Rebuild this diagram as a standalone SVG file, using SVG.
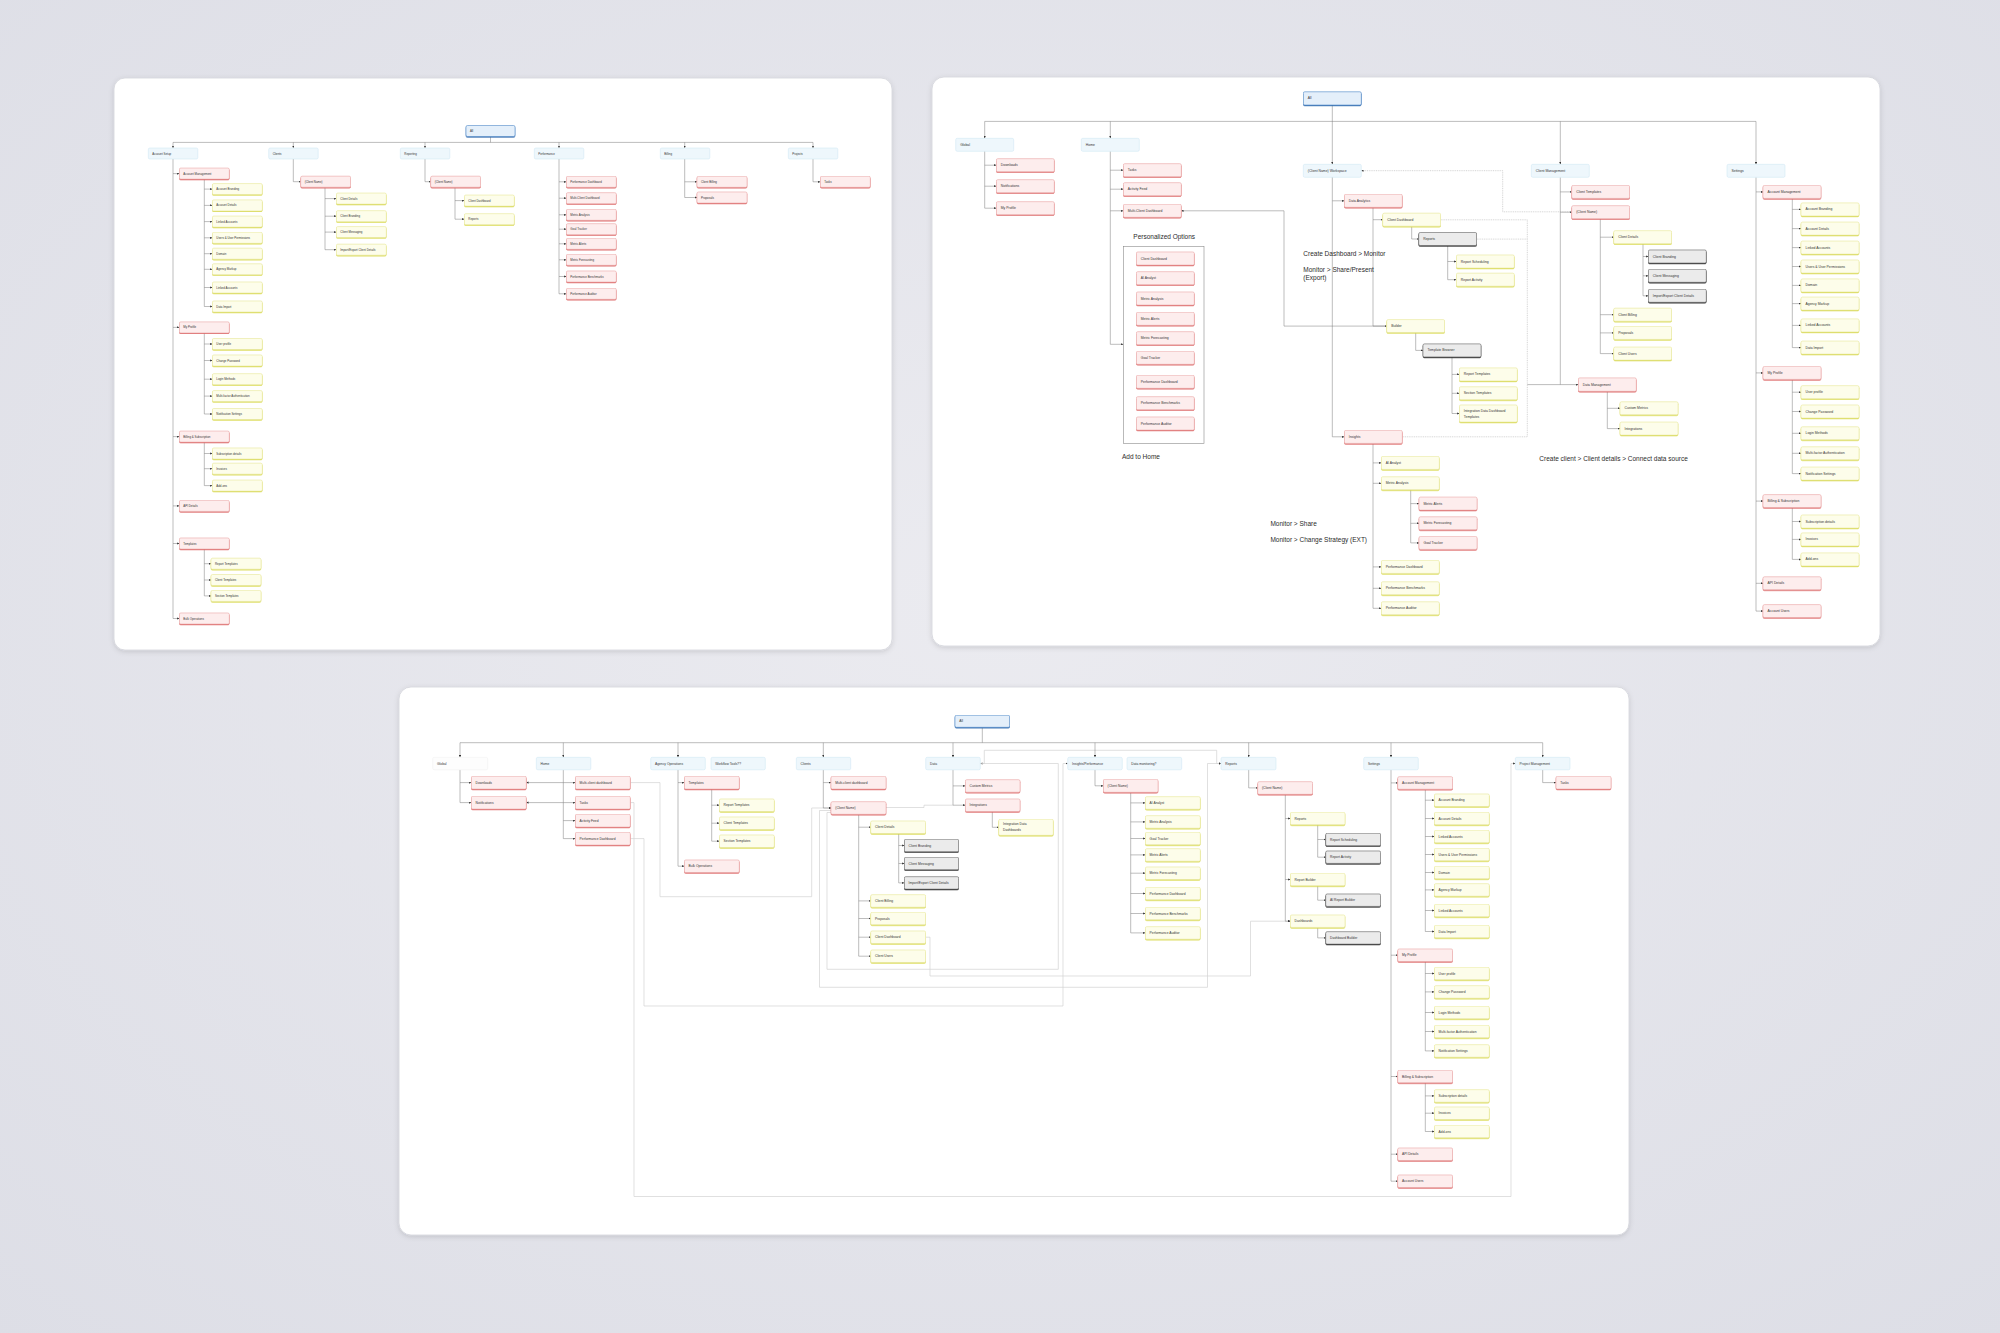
<svg xmlns="http://www.w3.org/2000/svg" width="2000" height="1333" viewBox="0 0 2000 1333">
<defs>
<radialGradient id="bg" cx="50%" cy="45%" r="75%"><stop offset="0" stop-color="#ebebf0"/><stop offset="1" stop-color="#dddee6"/></radialGradient>
<filter id="fp" x="-5%" y="-5%" width="110%" height="110%"><feDropShadow dx="0" dy="1.5" stdDeviation="2.5" flood-color="#000" flood-opacity="0.13"/></filter>
<filter id="fr"><feDropShadow dx="0" dy="0.8" stdDeviation="0" flood-color="#d95757"/></filter>
<filter id="fy"><feDropShadow dx="0" dy="0.8" stdDeviation="0" flood-color="#d6d63c"/></filter>
<filter id="fg"><feDropShadow dx="0" dy="0.8" stdDeviation="0" flood-color="#1e1e1e"/></filter>
<filter id="fa"><feDropShadow dx="0" dy="0.8" stdDeviation="0" flood-color="#2a66aa"/></filter>
<marker id="ar" viewBox="0 0 4 4" refX="4" refY="2" markerUnits="userSpaceOnUse" markerWidth="2.2" markerHeight="2.2" orient="auto"><path d="M0,0L4,2L0,4z" fill="#333"/></marker>
</defs>
<style>
.n rect{stroke-width:.5;rx:1.5px;ry:1.5px}
.n text{font-family:"Liberation Sans",Arial,sans-serif;fill:#333;dominant-baseline:central}
.p1 .n text{font-size:2.9px}
.p2 .n text{font-size:3.4px}
.p3 .n text{font-size:3.3px}
.a rect{fill:#e4effa;stroke:#3f7fc4;filter:url(#fa)}
.b rect{fill:#eef7fc;stroke:#cbe4f2}
.w rect{fill:#fdfdfd;stroke:#efefef}
.r rect{fill:#fdeded;stroke:#e9a3a3;filter:url(#fr)}
.y rect{fill:#fdfdea;stroke:#e7e793;filter:url(#fy)}
.g rect{fill:#ebebeb;stroke:#555;filter:url(#fg)}
.panel{fill:#fff;stroke:#d3d4db;stroke-width:.8;filter:url(#fp)}
.c path{fill:none;stroke:#7a7a7a;stroke-width:.5}
.c .k{marker-end:url(#ar)}
.c .x{stroke:#d2d2d2;stroke-width:.7}
.c .d{stroke:#a8a8a8;stroke-dasharray:1 .8}
.lbl{font-family:"Liberation Sans",Arial,sans-serif;font-size:6.5px;fill:#2b2b2b}
.box{fill:none;stroke:#8a8a8a;stroke-width:.6}
</style>
<rect width="2000" height="1333" fill="url(#bg)"/>
<rect class="panel" x="114" y="78" width="778" height="572" rx="11"/>
<rect class="panel" x="932" y="77" width="948" height="569" rx="12"/>
<rect class="panel" x="399" y="687" width="1230" height="548" rx="12"/>
<rect class="box" x="1123.3" y="246.3" width="80.7" height="197"/>

<g id="connectors" class="c">
<!-- panel 1 -->
<path d="M490.5 136.5V142.4M173 142.4H813"/>
<path class="k" d="M173 142.4V148"/><path class="k" d="M293.3 142.4V148"/><path class="k" d="M425 142.4V148"/><path class="k" d="M559 142.4V148"/><path class="k" d="M684.7 142.4V148"/><path class="k" d="M813 142.4V148"/>
<path d="M173 159V618.5M204.3 179.1V306.5M204.3 332.9V414M204.3 442.1V485.6M204.3 549V595.9"/>
<path class="k" d="M173 173.6H179.3"/><path class="k" d="M173 327.4H179.3"/><path class="k" d="M173 436.6H179.3"/><path class="k" d="M173 505.9H179.3"/><path class="k" d="M173 543.5H179.3"/><path class="k" d="M173 618.5H179.3"/>
<path class="k" d="M204.3 189.1H212.3"/><path class="k" d="M204.3 205.4H212.3"/><path class="k" d="M204.3 221.6H212.3"/><path class="k" d="M204.3 237.8H212.3"/><path class="k" d="M204.3 253.7H212.3"/><path class="k" d="M204.3 269.3H212.3"/><path class="k" d="M204.3 287.5H212.3"/><path class="k" d="M204.3 306.5H212.3"/>
<path class="k" d="M204.3 344H212.3"/><path class="k" d="M204.3 360.5H212.3"/><path class="k" d="M204.3 379.2H212.3"/><path class="k" d="M204.3 396.1H212.3"/><path class="k" d="M204.3 414H212.3"/>
<path class="k" d="M204.3 453.5H212.3"/><path class="k" d="M204.3 468.7H212.3"/><path class="k" d="M204.3 485.6H212.3"/>
<path class="k" d="M204.3 563.7H211"/><path class="k" d="M204.3 580H211"/><path class="k" d="M204.3 595.9H211"/>
<path class="k" d="M293.3 159V181.7H300.7"/>
<path d="M325 187.2V249.7"/>
<path class="k" d="M325 198.6H336.3"/><path class="k" d="M325 216.2H336.3"/><path class="k" d="M325 232.1H336.3"/><path class="k" d="M325 249.7H336.3"/>
<path class="k" d="M425 159V181.7H430.7"/>
<path d="M455 187.2V219.2"/>
<path class="k" d="M455 200.6H464.3"/><path class="k" d="M455 219.2H464.3"/>
<path d="M559 159V293.8"/>
<path class="k" d="M559 181.8H566.3"/><path class="k" d="M559 198.2H566.3"/><path class="k" d="M559 214.8H566.3"/><path class="k" d="M559 229.2H566.3"/><path class="k" d="M559 243.8H566.3"/><path class="k" d="M559 259.8H566.3"/><path class="k" d="M559 276.5H566.3"/><path class="k" d="M559 293.8H566.3"/>
<path d="M684.7 159V197.5"/>
<path class="k" d="M684.7 181.8H697"/><path class="k" d="M684.7 197.5H697"/>
<path class="k" d="M813 159V181.8H820.3"/>
<!-- panel 2 -->
<path d="M984.7 121.4H1756"/>
<path class="k" d="M1332.3 105V164.3"/>
<path class="k" d="M984.7 121.4V138.3"/><path class="k" d="M1110.3 121.4V138.3"/><path class="k" d="M1560.3 121.4V164.3"/><path class="k" d="M1756 121.4V164.3"/>
<path d="M984.7 151.3V208.2M1110.3 151.3V344.3"/>
<path class="k" d="M984.7 165.2H996.3"/><path class="k" d="M984.7 186.2H996.3"/><path class="k" d="M984.7 208.2H996.3"/>
<path class="k" d="M1110.3 170.2H1123.3"/><path class="k" d="M1110.3 189.2H1123.3"/><path class="k" d="M1110.3 210.8H1123.3"/><path class="k" d="M1110.3 344.3H1123.3"/>
<path class="k" d="M1386.7 326.1H1284V210.8H1181.3"/>
<path d="M1332.3 177.1V436.8M1373 207.1V326.1"/>
<path class="k" d="M1332.3 200.8H1344.3"/><path class="k" d="M1332.3 436.8H1344.3"/>
<path class="k" d="M1373 219.7H1382.7"/><path class="k" d="M1373 326.1H1386.7"/>
<path class="k" d="M1411.7 226.4V239H1418.7"/>
<path d="M1447.7 245.7V279.7"/>
<path class="k" d="M1447.7 261.5H1456.3"/><path class="k" d="M1447.7 279.7H1456.3"/>
<path class="k" d="M1415.7 332.6V350.4H1423"/>
<path d="M1452 357.1V413.5"/>
<path class="k" d="M1452 374.4H1459.3"/><path class="k" d="M1452 393.3H1459.3"/><path class="k" d="M1452 413.5H1459.3"/>
<path d="M1373 443.4V608.3"/>
<path class="k" d="M1373 462.9H1381.3"/><path class="k" d="M1373 483.3H1381.3"/><path class="k" d="M1373 566.9H1381.3"/><path class="k" d="M1373 588.3H1381.3"/><path class="k" d="M1373 608.3H1381.3"/>
<path d="M1410.7 489.8V542.9"/>
<path class="k" d="M1410.7 503.6H1419"/><path class="k" d="M1410.7 523.3H1419"/><path class="k" d="M1410.7 542.9H1419"/>
<path d="M1560.3 177.3V384.6"/>
<path class="k" d="M1560.3 191.9H1571.7"/><path class="k" d="M1560.3 212.2H1571.7"/><path class="k" d="M1527.3 384.6H1578.3"/>
<path d="M1600.3 218.7V353.6"/>
<path class="k" d="M1600.3 237.2H1613.7"/><path class="k" d="M1600.3 314.7H1613.7"/><path class="k" d="M1600.3 332.9H1613.7"/><path class="k" d="M1600.3 353.6H1613.7"/>
<path d="M1643 243.7V295.8"/>
<path class="k" d="M1643 256.5H1648.3"/><path class="k" d="M1643 275.8H1648.3"/><path class="k" d="M1643 295.8H1648.3"/>
<path d="M1607.3 391.4V428.6"/>
<path class="k" d="M1607.3 408.3H1620"/><path class="k" d="M1607.3 428.6H1620"/>
<path class="d k" d="M1571.7 211.8H1502.7V170.7H1361.3"/>
<path class="d" d="M1440.7 219.8H1527.3V436.8H1402M1476.7 239.1H1527.3"/>
<path d="M1756 177.3V611.1M1792.3 198.4V347.6M1792.3 379.4V473.6M1792.3 507.6V559.4"/>
<path class="k" d="M1756 191.9H1763"/><path class="k" d="M1756 372.9H1763"/><path class="k" d="M1756 501.1H1763"/><path class="k" d="M1756 583.3H1763"/><path class="k" d="M1756 611.1H1763"/>
<path class="k" d="M1792.3 209.4H1801"/><path class="k" d="M1792.3 228.6H1801"/><path class="k" d="M1792.3 247.6H1801"/><path class="k" d="M1792.3 266.5H1801"/><path class="k" d="M1792.3 285.4H1801"/><path class="k" d="M1792.3 303.6H1801"/><path class="k" d="M1792.3 325.4H1801"/><path class="k" d="M1792.3 347.6H1801"/>
<path class="k" d="M1792.3 392.2H1801"/><path class="k" d="M1792.3 411.5H1801"/><path class="k" d="M1792.3 433.3H1801"/><path class="k" d="M1792.3 453.3H1801"/><path class="k" d="M1792.3 473.6H1801"/>
<path class="k" d="M1792.3 521.5H1801"/><path class="k" d="M1792.3 539.4H1801"/><path class="k" d="M1792.3 559.4H1801"/>
<!-- panel 3 -->
<path class="x k" d="M630.3 782.6H660V896.7H811.7V808H831"/>
<path class="x k" d="M630.3 802.6H634V1196.5H1511V763.5H1515.3"/>
<path class="x k" d="M630.3 838.6H644V1006H1063V763.5H1067.7"/>
<path class="x k" d="M831 810.5H819.5V987.3H1207.5V763.5H1221"/>
<path class="x k" d="M831 812.5H827V969.3H1058.3V763.5H980.3"/>
<path class="x k" d="M980.3 763.5H984.3V750.3H1216.7V763.5H1221"/>
<path class="x" d="M885.7 807.5H924V805.2H953"/>
<path class="x k" d="M925.7 937.2H930V976H1250.5V921.2H1290.3"/>
<path d="M982.3 727.3V742.7M460 742.7H1542.7"/>
<path class="k" d="M460 742.7V757.3"/><path class="k" d="M563.3 742.7V757.3"/><path class="k" d="M678 742.7V757.3"/><path class="k" d="M823.3 742.7V757.3"/><path class="k" d="M953 742.7V757.3"/><path class="k" d="M1095 742.7V757.3"/><path class="k" d="M1248.7 742.7V757.3"/><path class="k" d="M1391 742.7V757.3"/><path class="k" d="M1542.7 742.7V757.3"/>
<path d="M460 769.8V802.6M563.3 769.8V838.6"/>
<path class="k" d="M460 782.6H471.3"/><path class="k" d="M460 802.6H471.3"/>
<path class="k" d="M563.3 782.6H575.3"/><path class="k" d="M563.3 802.6H575.3"/><path class="k" d="M563.3 820.6H575.3"/><path class="k" d="M563.3 838.6H575.3"/>
<path class="k" d="M563.3 782.6H526.3"/><path class="k" d="M563.3 802.6H526.3"/>
<path d="M678 769.8V866.2M711.7 788.8V841.2"/>
<path class="k" d="M678 782.6H684.3"/><path class="k" d="M678 866.2H684.3"/>
<path class="k" d="M711.7 805.2H719.3"/><path class="k" d="M711.7 823.2H719.3"/><path class="k" d="M711.7 841.2H719.3"/>
<path d="M823.3 769.8V808M858.7 814.2V956.2M898.7 833.5V882.9"/>
<path class="k" d="M823.3 782.6H831"/><path class="k" d="M823.3 808H831"/>
<path class="k" d="M858.7 827.2H870.7"/><path class="k" d="M858.7 900.9H870.7"/><path class="k" d="M858.7 918.5H870.7"/><path class="k" d="M858.7 937.2H870.7"/><path class="k" d="M858.7 956.2H870.7"/>
<path class="k" d="M898.7 845.5H904.3"/><path class="k" d="M898.7 863.5H904.3"/><path class="k" d="M898.7 882.9H904.3"/>
<path d="M953 769.8V805.2"/>
<path class="k" d="M953 785.9H965.3"/><path class="k" d="M953 805.2H965.3"/>
<path class="k" d="M992.3 811.5V827.3H998.7"/>
<path class="k" d="M1095 769.8V785.8H1103.3"/>
<path d="M1130.7 792.3V932.9"/>
<path class="k" d="M1130.7 802.9H1145.3"/><path class="k" d="M1130.7 821.9H1145.3"/><path class="k" d="M1130.7 838.5H1145.3"/><path class="k" d="M1130.7 854.9H1145.3"/><path class="k" d="M1130.7 873.2H1145.3"/><path class="k" d="M1130.7 893.5H1145.3"/><path class="k" d="M1130.7 913.5H1145.3"/><path class="k" d="M1130.7 932.9H1145.3"/>
<path class="k" d="M1248.7 769.8V787.9H1257.7"/>
<path d="M1285.3 794.2V921.2M1317.7 824.8V857.2"/>
<path class="k" d="M1285.3 818.5H1290.3"/><path class="k" d="M1285.3 879.5H1290.3"/><path class="k" d="M1285.3 921.2H1290.3"/>
<path class="k" d="M1317.7 839.5H1325.7"/><path class="k" d="M1317.7 857.2H1325.7"/>
<path class="k" d="M1317.7 885.8V900.2H1325.7"/><path class="k" d="M1317.7 927.5V937.9H1325.7"/>
<path d="M1391 769.8V1181.2M1425.3 789.2V931.5M1425.3 961.5V1050.9M1425.3 1082.8V1131.5"/>
<path class="k" d="M1391 782.9H1397.7"/><path class="k" d="M1391 955.2H1397.7"/><path class="k" d="M1391 1076.5H1397.7"/><path class="k" d="M1391 1154.2H1397.7"/><path class="k" d="M1391 1181.2H1397.7"/>
<path class="k" d="M1425.3 800.2H1434.3"/><path class="k" d="M1425.3 818.5H1434.3"/><path class="k" d="M1425.3 836.5H1434.3"/><path class="k" d="M1425.3 854.5H1434.3"/><path class="k" d="M1425.3 872.5H1434.3"/><path class="k" d="M1425.3 889.9H1434.3"/><path class="k" d="M1425.3 910.5H1434.3"/><path class="k" d="M1425.3 931.5H1434.3"/>
<path class="k" d="M1425.3 973.5H1434.3"/><path class="k" d="M1425.3 991.9H1434.3"/><path class="k" d="M1425.3 1012.5H1434.3"/><path class="k" d="M1425.3 1031.5H1434.3"/><path class="k" d="M1425.3 1050.9H1434.3"/>
<path class="k" d="M1425.3 1095.9H1434.3"/><path class="k" d="M1425.3 1113.2H1434.3"/><path class="k" d="M1425.3 1131.5H1434.3"/>
<path class="k" d="M1542.7 769.8V782.6H1556"/>
</g>

<g id="panel1" class="p1">
<g id="p1-all" class="n a"><rect x="466" y="125.5" width="49" height="11"/><text x="470" y="131">All</text></g>
<g id="p1-account-setup" class="n b"><rect x="148.3" y="148" width="49.5" height="11"/><text x="152.3" y="153.5">Account Setup</text></g>
<g id="p1-clients" class="n b"><rect x="268.7" y="148" width="49.5" height="11"/><text x="272.7" y="153.5">Clients</text></g>
<g id="p1-reporting" class="n b"><rect x="400.3" y="148" width="49.5" height="11"/><text x="404.3" y="153.5">Reporting</text></g>
<g id="p1-performance" class="n b"><rect x="534.3" y="148" width="49.5" height="11"/><text x="538.3" y="153.5">Performance</text></g>
<g id="p1-billing" class="n b"><rect x="660.3" y="148" width="49.5" height="11"/><text x="664.3" y="153.5">Billing</text></g>
<g id="p1-projects" class="n b"><rect x="788.3" y="148" width="49.5" height="11"/><text x="792.3" y="153.5">Projects</text></g>
<g id="p1-account-management" class="n r"><rect x="179.3" y="168.1" width="50" height="11"/><text x="183.3" y="173.6">Account Management</text></g>
<g id="p1-my-profile" class="n r"><rect x="179.3" y="321.9" width="50" height="11"/><text x="183.3" y="327.4">My Profile</text></g>
<g id="p1-billing-subscription" class="n r"><rect x="179.3" y="431.1" width="50" height="11"/><text x="183.3" y="436.6">Billing &amp; Subscription</text></g>
<g id="p1-api-details" class="n r"><rect x="179.3" y="500.4" width="50" height="11"/><text x="183.3" y="505.9">API Details</text></g>
<g id="p1-templates" class="n r"><rect x="179.3" y="538" width="50" height="11"/><text x="183.3" y="543.5">Templates</text></g>
<g id="p1-bulk-operations" class="n r"><rect x="179.3" y="613" width="50" height="11"/><text x="183.3" y="618.5">Bulk Operations</text></g>
<g id="p1-account-branding" class="n y"><rect x="212.3" y="183.6" width="50" height="11"/><text x="216.3" y="189.1">Account Branding</text></g>
<g id="p1-account-details" class="n y"><rect x="212.3" y="199.9" width="50" height="11"/><text x="216.3" y="205.4">Account Details</text></g>
<g id="p1-linked-accounts-1" class="n y"><rect x="212.3" y="216.1" width="50" height="11"/><text x="216.3" y="221.6">Linked Accounts</text></g>
<g id="p1-users-permissions" class="n y"><rect x="212.3" y="232.3" width="50" height="11"/><text x="216.3" y="237.8">Users &amp; User Permissions</text></g>
<g id="p1-domain" class="n y"><rect x="212.3" y="248.2" width="50" height="11"/><text x="216.3" y="253.7">Domain</text></g>
<g id="p1-agency-markup" class="n y"><rect x="212.3" y="263.8" width="50" height="11"/><text x="216.3" y="269.3">Agency Markup</text></g>
<g id="p1-linked-accounts-2" class="n y"><rect x="212.3" y="282" width="50" height="11"/><text x="216.3" y="287.5">Linked Accounts</text></g>
<g id="p1-data-import" class="n y"><rect x="212.3" y="301" width="50" height="11"/><text x="216.3" y="306.5">Data Import</text></g>
<g id="p1-user-profile" class="n y"><rect x="212.3" y="338.5" width="50" height="11"/><text x="216.3" y="344">User profile</text></g>
<g id="p1-change-password" class="n y"><rect x="212.3" y="355" width="50" height="11"/><text x="216.3" y="360.5">Change Password</text></g>
<g id="p1-login-methods" class="n y"><rect x="212.3" y="373.7" width="50" height="11"/><text x="216.3" y="379.2">Login Methods</text></g>
<g id="p1-mfa" class="n y"><rect x="212.3" y="390.6" width="50" height="11"/><text x="216.3" y="396.1">Multi-factor Authentication</text></g>
<g id="p1-notification-settings" class="n y"><rect x="212.3" y="408.5" width="50" height="11"/><text x="216.3" y="414">Notification Settings</text></g>
<g id="p1-subscription-details" class="n y"><rect x="212.3" y="448" width="50" height="11"/><text x="216.3" y="453.5">Subscription details</text></g>
<g id="p1-invoices" class="n y"><rect x="212.3" y="463.2" width="50" height="11"/><text x="216.3" y="468.7">Invoices</text></g>
<g id="p1-add-ons" class="n y"><rect x="212.3" y="480.1" width="50" height="11"/><text x="216.3" y="485.6">Add-ons</text></g>
<g id="p1-report-templates" class="n y"><rect x="211" y="558.2" width="50" height="11"/><text x="215" y="563.7">Report Templates</text></g>
<g id="p1-client-templates" class="n y"><rect x="211" y="574.5" width="50" height="11"/><text x="215" y="580">Client Templates</text></g>
<g id="p1-section-templates" class="n y"><rect x="211" y="590.4" width="50" height="11"/><text x="215" y="595.9">Section Templates</text></g>
<g id="p1-clients-client-name" class="n r"><rect x="300.7" y="176.2" width="50" height="11"/><text x="304.7" y="181.7">(Client Name)</text></g>
<g id="p1-client-details" class="n y"><rect x="336.3" y="193.1" width="50" height="11"/><text x="340.3" y="198.6">Client Details</text></g>
<g id="p1-client-branding" class="n y"><rect x="336.3" y="210.7" width="50" height="11"/><text x="340.3" y="216.2">Client Branding</text></g>
<g id="p1-client-messaging" class="n y"><rect x="336.3" y="226.6" width="50" height="11"/><text x="340.3" y="232.1">Client Messaging</text></g>
<g id="p1-import-export" class="n y"><rect x="336.3" y="244.2" width="50" height="11"/><text x="340.3" y="249.7">Import/Export Client Details</text></g>
<g id="p1-reporting-client-name" class="n r"><rect x="430.7" y="176.2" width="50" height="11"/><text x="434.7" y="181.7">(Client Name)</text></g>
<g id="p1-client-dashboard" class="n y"><rect x="464.3" y="195.1" width="50" height="11"/><text x="468.3" y="200.6">Client Dashboard</text></g>
<g id="p1-reports" class="n y"><rect x="464.3" y="213.7" width="50" height="11"/><text x="468.3" y="219.2">Reports</text></g>
<g id="p1-performance-dashboard" class="n r"><rect x="566.3" y="176.3" width="50" height="11"/><text x="570.3" y="181.8">Performance Dashboard</text></g>
<g id="p1-multi-client-dashboard" class="n r"><rect x="566.3" y="192.7" width="50" height="11"/><text x="570.3" y="198.2">Multi-Client Dashboard</text></g>
<g id="p1-metric-analysis" class="n r"><rect x="566.3" y="209.3" width="50" height="11"/><text x="570.3" y="214.8">Metric Analysis</text></g>
<g id="p1-goal-tracker" class="n r"><rect x="566.3" y="223.7" width="50" height="11"/><text x="570.3" y="229.2">Goal Tracker</text></g>
<g id="p1-metric-alerts" class="n r"><rect x="566.3" y="238.3" width="50" height="11"/><text x="570.3" y="243.8">Metric Alerts</text></g>
<g id="p1-metric-forecasting" class="n r"><rect x="566.3" y="254.3" width="50" height="11"/><text x="570.3" y="259.8">Metric Forecasting</text></g>
<g id="p1-performance-benchmarks" class="n r"><rect x="566.3" y="271" width="50" height="11"/><text x="570.3" y="276.5">Performance Benchmarks</text></g>
<g id="p1-performance-auditor" class="n r"><rect x="566.3" y="288.3" width="50" height="11"/><text x="570.3" y="293.8">Performance Auditor</text></g>
<g id="p1-client-billing" class="n r"><rect x="697" y="176.3" width="50" height="11"/><text x="701" y="181.8">Client Billing</text></g>
<g id="p1-proposals" class="n r"><rect x="697" y="192" width="50" height="11"/><text x="701" y="197.5">Proposals</text></g>
<g id="p1-tasks" class="n r"><rect x="820.3" y="176.3" width="50" height="11"/><text x="824.3" y="181.8">Tasks</text></g>
</g>

<g id="panel2" class="p2">
<g id="p2-all" class="n a"><rect x="1303.3" y="91.8" width="58" height="13.2"/><text x="1307.8" y="98.4">All</text></g>
<g id="p2-global" class="n b"><rect x="955.7" y="138.3" width="58" height="13"/><text x="960.2" y="144.8">Global</text></g>
<g id="p2-home" class="n b"><rect x="1081.3" y="138.3" width="58" height="13"/><text x="1085.8" y="144.8">Home</text></g>
<g id="p2-workspace" class="n b"><rect x="1303.3" y="164.3" width="58" height="13"/><text x="1307.8" y="170.8">(Client Name) Workspace</text></g>
<g id="p2-client-management" class="n b"><rect x="1531.3" y="164.3" width="58" height="13"/><text x="1535.8" y="170.8">Client Management</text></g>
<g id="p2-settings" class="n b"><rect x="1727" y="164.3" width="58" height="13"/><text x="1731.5" y="170.8">Settings</text></g>
<g id="p2-downloads" class="n r"><rect x="996.3" y="158.7" width="58" height="13"/><text x="1000.8" y="165.2">Downloads</text></g>
<g id="p2-notifications" class="n r"><rect x="996.3" y="179.7" width="58" height="13"/><text x="1000.8" y="186.2">Notifications</text></g>
<g id="p2-global-my-profile" class="n r"><rect x="996.3" y="201.7" width="58" height="13"/><text x="1000.8" y="208.2">My Profile</text></g>
<g id="p2-tasks" class="n r"><rect x="1123.3" y="163.7" width="58" height="13"/><text x="1127.8" y="170.2">Tasks</text></g>
<g id="p2-activity-feed" class="n r"><rect x="1123.3" y="182.7" width="58" height="13"/><text x="1127.8" y="189.2">Activity Feed</text></g>
<g id="p2-multi-client-dashboard" class="n r"><rect x="1123.3" y="204.3" width="58" height="13"/><text x="1127.8" y="210.8">Multi-Client Dashboard</text></g>
<g id="p2-opt-client-dashboard" class="n r"><rect x="1136.3" y="252" width="58" height="13"/><text x="1140.8" y="258.5">Client Dashboard</text></g>
<g id="p2-opt-ai-analyst" class="n r"><rect x="1136.3" y="271.7" width="58" height="13"/><text x="1140.8" y="278.2">AI Analyst</text></g>
<g id="p2-opt-metric-analysis" class="n r"><rect x="1136.3" y="292" width="58" height="13"/><text x="1140.8" y="298.5">Metric Analysis</text></g>
<g id="p2-opt-metric-alerts" class="n r"><rect x="1136.3" y="312.3" width="58" height="13"/><text x="1140.8" y="318.8">Metric Alerts</text></g>
<g id="p2-opt-metric-forecasting" class="n r"><rect x="1136.3" y="331.7" width="58" height="13"/><text x="1140.8" y="338.2">Metric Forecasting</text></g>
<g id="p2-opt-goal-tracker" class="n r"><rect x="1136.3" y="351.3" width="58" height="13"/><text x="1140.8" y="357.8">Goal Tracker</text></g>
<g id="p2-opt-performance-dashboard" class="n r"><rect x="1136.3" y="375.3" width="58" height="13"/><text x="1140.8" y="381.8">Performance Dashboard</text></g>
<g id="p2-opt-performance-benchmarks" class="n r"><rect x="1136.3" y="396.7" width="58" height="13"/><text x="1140.8" y="403.2">Performance Benchmarks</text></g>
<g id="p2-opt-performance-auditor" class="n r"><rect x="1136.3" y="417" width="58" height="13"/><text x="1140.8" y="423.5">Performance Auditor</text></g>
<g id="p2-data-analytics" class="n r"><rect x="1344.3" y="194.3" width="58" height="13"/><text x="1348.8" y="200.8">Data Analytics</text></g>
<g id="p2-client-dashboard" class="n y"><rect x="1382.7" y="213.2" width="58" height="13"/><text x="1387.2" y="219.7">Client Dashboard</text></g>
<g id="p2-reports" class="n g"><rect x="1418.7" y="232.5" width="58" height="13"/><text x="1423.2" y="239">Reports</text></g>
<g id="p2-report-scheduling" class="n y"><rect x="1456.3" y="255" width="58" height="13"/><text x="1460.8" y="261.5">Report Scheduling</text></g>
<g id="p2-report-activity" class="n y"><rect x="1456.3" y="273.2" width="58" height="13"/><text x="1460.8" y="279.7">Report Activity</text></g>
<g id="p2-builder" class="n y"><rect x="1386.7" y="319.6" width="58" height="13"/><text x="1391.2" y="326.1">Builder</text></g>
<g id="p2-template-browser" class="n g"><rect x="1423" y="343.9" width="58" height="13"/><text x="1427.5" y="350.4">Template Browser</text></g>
<g id="p2-report-templates" class="n y"><rect x="1459.3" y="367.9" width="58" height="13"/><text x="1463.8" y="374.4">Report Templates</text></g>
<g id="p2-section-templates" class="n y"><rect x="1459.3" y="386.8" width="58" height="13"/><text x="1463.8" y="393.3">Section Templates</text></g>
<g id="p2-integration-templates" class="n y"><rect x="1459.3" y="405" width="58" height="17"/><text x="1463.8" y="410.5">Integration Data Dashboard<tspan x="1463.8" y="416.5">Templates</tspan></text></g>
<g id="p2-insights" class="n r"><rect x="1344.3" y="430.4" width="58" height="13"/><text x="1348.8" y="436.9">Insights</text></g>
<g id="p2-ai-analyst" class="n y"><rect x="1381.3" y="456.4" width="58" height="13"/><text x="1385.8" y="462.9">AI Analyst</text></g>
<g id="p2-metric-analysis" class="n y"><rect x="1381.3" y="476.8" width="58" height="13"/><text x="1385.8" y="483.3">Metric Analysis</text></g>
<g id="p2-metric-alerts" class="n r"><rect x="1419" y="497.1" width="58" height="13"/><text x="1423.5" y="503.6">Metric Alerts</text></g>
<g id="p2-metric-forecasting" class="n r"><rect x="1419" y="516.8" width="58" height="13"/><text x="1423.5" y="523.3">Metric Forecasting</text></g>
<g id="p2-goal-tracker" class="n r"><rect x="1419" y="536.4" width="58" height="13"/><text x="1423.5" y="542.9">Goal Tracker</text></g>
<g id="p2-performance-dashboard" class="n y"><rect x="1381.3" y="560.4" width="58" height="13"/><text x="1385.8" y="566.9">Performance Dashboard</text></g>
<g id="p2-performance-benchmarks" class="n y"><rect x="1381.3" y="581.8" width="58" height="13"/><text x="1385.8" y="588.3">Performance Benchmarks</text></g>
<g id="p2-performance-auditor" class="n y"><rect x="1381.3" y="601.8" width="58" height="13"/><text x="1385.8" y="608.3">Performance Auditor</text></g>
<g id="p2-client-templates" class="n r"><rect x="1571.7" y="185.4" width="58" height="13"/><text x="1576.2" y="191.9">Client Templates</text></g>
<g id="p2-cm-client-name" class="n r"><rect x="1571.7" y="205.7" width="58" height="13"/><text x="1576.2" y="212.2">(Client Name)</text></g>
<g id="p2-client-details" class="n y"><rect x="1613.7" y="230.7" width="58" height="13"/><text x="1618.2" y="237.2">Client Details</text></g>
<g id="p2-client-branding" class="n g"><rect x="1648.3" y="250" width="58" height="13"/><text x="1652.8" y="256.5">Client Branding</text></g>
<g id="p2-client-messaging" class="n g"><rect x="1648.3" y="269.3" width="58" height="13"/><text x="1652.8" y="275.8">Client Messaging</text></g>
<g id="p2-import-export" class="n g"><rect x="1648.3" y="289.3" width="58" height="13"/><text x="1652.8" y="295.8">Import/Export Client Details</text></g>
<g id="p2-client-billing" class="n y"><rect x="1613.7" y="308.2" width="58" height="13"/><text x="1618.2" y="314.7">Client Billing</text></g>
<g id="p2-proposals" class="n y"><rect x="1613.7" y="326.4" width="58" height="13"/><text x="1618.2" y="332.9">Proposals</text></g>
<g id="p2-client-users" class="n y"><rect x="1613.7" y="347.1" width="58" height="13"/><text x="1618.2" y="353.6">Client Users</text></g>
<g id="p2-data-management" class="n r"><rect x="1578.3" y="377.9" width="58" height="13.4"/><text x="1582.8" y="384.6">Data Management</text></g>
<g id="p2-custom-metrics" class="n y"><rect x="1620" y="401.8" width="58" height="13"/><text x="1624.5" y="408.3">Custom Metrics</text></g>
<g id="p2-integrations" class="n y"><rect x="1620" y="422.1" width="58" height="13"/><text x="1624.5" y="428.6">Integrations</text></g>
<g id="p2-account-management" class="n r"><rect x="1763" y="185.4" width="58" height="13"/><text x="1767.5" y="191.9">Account Management</text></g>
<g id="p2-account-branding" class="n y"><rect x="1801" y="202.9" width="58" height="13"/><text x="1805.5" y="209.4">Account Branding</text></g>
<g id="p2-account-details" class="n y"><rect x="1801" y="222.1" width="58" height="13"/><text x="1805.5" y="228.6">Account Details</text></g>
<g id="p2-linked-accounts-1" class="n y"><rect x="1801" y="241.1" width="58" height="13"/><text x="1805.5" y="247.6">Linked Accounts</text></g>
<g id="p2-users-permissions" class="n y"><rect x="1801" y="260" width="58" height="13"/><text x="1805.5" y="266.5">Users &amp; User Permissions</text></g>
<g id="p2-domain" class="n y"><rect x="1801" y="278.9" width="58" height="13"/><text x="1805.5" y="285.4">Domain</text></g>
<g id="p2-agency-markup" class="n y"><rect x="1801" y="297.1" width="58" height="13"/><text x="1805.5" y="303.6">Agency Markup</text></g>
<g id="p2-linked-accounts-2" class="n y"><rect x="1801" y="318.9" width="58" height="13"/><text x="1805.5" y="325.4">Linked Accounts</text></g>
<g id="p2-data-import" class="n y"><rect x="1801" y="341.1" width="58" height="13"/><text x="1805.5" y="347.6">Data Import</text></g>
<g id="p2-my-profile" class="n r"><rect x="1763" y="366.4" width="58" height="13"/><text x="1767.5" y="372.9">My Profile</text></g>
<g id="p2-user-profile" class="n y"><rect x="1801" y="385.7" width="58" height="13"/><text x="1805.5" y="392.2">User profile</text></g>
<g id="p2-change-password" class="n y"><rect x="1801" y="405" width="58" height="13"/><text x="1805.5" y="411.5">Change Password</text></g>
<g id="p2-login-methods" class="n y"><rect x="1801" y="426.8" width="58" height="13"/><text x="1805.5" y="433.3">Login Methods</text></g>
<g id="p2-mfa" class="n y"><rect x="1801" y="446.8" width="58" height="13"/><text x="1805.5" y="453.3">Multi-factor Authentication</text></g>
<g id="p2-notification-settings" class="n y"><rect x="1801" y="467.1" width="58" height="13"/><text x="1805.5" y="473.6">Notification Settings</text></g>
<g id="p2-billing-subscription" class="n r"><rect x="1763" y="494.6" width="58" height="13"/><text x="1767.5" y="501.1">Billing &amp; Subscription</text></g>
<g id="p2-subscription-details" class="n y"><rect x="1801" y="515" width="58" height="13"/><text x="1805.5" y="521.5">Subscription details</text></g>
<g id="p2-invoices" class="n y"><rect x="1801" y="532.9" width="58" height="13"/><text x="1805.5" y="539.4">Invoices</text></g>
<g id="p2-add-ons" class="n y"><rect x="1801" y="552.9" width="58" height="13"/><text x="1805.5" y="559.4">Add-ons</text></g>
<g id="p2-api-details" class="n r"><rect x="1763" y="576.8" width="58" height="13"/><text x="1767.5" y="583.3">API Details</text></g>
<g id="p2-account-users" class="n r"><rect x="1763" y="604.6" width="58" height="13"/><text x="1767.5" y="611.1">Account Users</text></g>
<text class="lbl" x="1133.3" y="238.8">Personalized Options</text>
<text class="lbl" x="1122" y="458.6">Add to Home</text>
<text class="lbl" x="1303.3" y="256.3">Create Dashboard &gt; Monitor</text>
<text class="lbl" x="1303.3" y="271.9">Monitor &gt; Share/Present</text>
<text class="lbl" x="1303.3" y="280.2">(Export)</text>
<text class="lbl" x="1270.4" y="525.9">Monitor &gt; Share</text>
<text class="lbl" x="1270.4" y="541.9">Monitor &gt; Change Strategy (EXT)</text>
<text class="lbl" x="1539.3" y="460.9">Create client &gt; Client details &gt; Connect data source</text>
</g>

<g id="panel3" class="p3">
<g id="p3-all" class="n a"><rect x="955" y="715.3" width="54.7" height="12"/><text x="959.3" y="721.3">All</text></g>
<g id="p3-global" class="n w"><rect x="432.7" y="757.3" width="55" height="12.5"/><text x="437" y="763.55">Global</text></g>
<g id="p3-home" class="n b"><rect x="536.3" y="757.3" width="54.5" height="12.5"/><text x="540.6" y="763.55">Home</text></g>
<g id="p3-agency-operations" class="n b"><rect x="650.7" y="757.3" width="54.6" height="12.5"/><text x="655" y="763.55">Agency Operations</text></g>
<g id="p3-workflow-tools" class="n b"><rect x="711" y="757.3" width="54.3" height="12.5"/><text x="715.3" y="763.55">Workflow Tools??</text></g>
<g id="p3-clients" class="n b"><rect x="796.3" y="757.3" width="54.4" height="12.5"/><text x="800.6" y="763.55">Clients</text></g>
<g id="p3-data" class="n b"><rect x="925.7" y="757.3" width="54.6" height="12.5"/><text x="930" y="763.55">Data</text></g>
<g id="p3-insights-performance" class="n b"><rect x="1067.7" y="757.3" width="54.6" height="12.5"/><text x="1072" y="763.55">Insights/Performance</text></g>
<g id="p3-data-monitoring" class="n b"><rect x="1127" y="757.3" width="54.7" height="12.5"/><text x="1131.3" y="763.55">Data monitoring?</text></g>
<g id="p3-reports" class="n b"><rect x="1221" y="757.3" width="55" height="12.5"/><text x="1225.3" y="763.55">Reports</text></g>
<g id="p3-settings" class="n b"><rect x="1363.7" y="757.3" width="54.6" height="12.5"/><text x="1368" y="763.55">Settings</text></g>
<g id="p3-project-management" class="n b"><rect x="1515.3" y="757.3" width="54.7" height="12.5"/><text x="1519.6" y="763.55">Project Management</text></g>
<g id="p3-downloads" class="n r"><rect x="471.3" y="776.3" width="55" height="12.7"/><text x="475.6" y="782.6">Downloads</text></g>
<g id="p3-notifications" class="n r"><rect x="471.3" y="796.3" width="55" height="12.7"/><text x="475.6" y="802.6">Notifications</text></g>
<g id="p3-home-multi-client" class="n r"><rect x="575.3" y="776.3" width="55" height="12.7"/><text x="579.6" y="782.6">Multi-client dashboard</text></g>
<g id="p3-home-tasks" class="n r"><rect x="575.3" y="796.3" width="55" height="12.7"/><text x="579.6" y="802.6">Tasks</text></g>
<g id="p3-activity-feed" class="n r"><rect x="575.3" y="814.3" width="55" height="12.7"/><text x="579.6" y="820.6">Activity Feed</text></g>
<g id="p3-home-performance-dashboard" class="n r"><rect x="575.3" y="832.3" width="55" height="12.7"/><text x="579.6" y="838.6">Performance Dashboard</text></g>
<g id="p3-templates" class="n r"><rect x="684.3" y="776.3" width="55" height="12.7"/><text x="688.6" y="782.6">Templates</text></g>
<g id="p3-report-templates" class="n y"><rect x="719.3" y="799" width="55" height="12.5"/><text x="723.6" y="805.2">Report Templates</text></g>
<g id="p3-client-templates" class="n y"><rect x="719.3" y="817" width="55" height="12.5"/><text x="723.6" y="823.2">Client Templates</text></g>
<g id="p3-section-templates" class="n y"><rect x="719.3" y="835" width="55" height="12.5"/><text x="723.6" y="841.2">Section Templates</text></g>
<g id="p3-bulk-operations" class="n r"><rect x="684.3" y="860" width="55" height="12.5"/><text x="688.6" y="866.2">Bulk Operations</text></g>
<g id="p3-clients-multi-client" class="n r"><rect x="831" y="776.3" width="55" height="12.7"/><text x="835.3" y="782.6">Multi-client dashboard</text></g>
<g id="p3-clients-client-name" class="n r"><rect x="831" y="801.7" width="55" height="12.6"/><text x="835.3" y="808">(Client Name)</text></g>
<g id="p3-client-details" class="n y"><rect x="870.7" y="821" width="55" height="12.5"/><text x="875" y="827.2">Client Details</text></g>
<g id="p3-client-branding" class="n g"><rect x="904.3" y="839.3" width="54.4" height="12.4"/><text x="908.6" y="845.5">Client Branding</text></g>
<g id="p3-client-messaging" class="n g"><rect x="904.3" y="857.3" width="54.4" height="12.4"/><text x="908.6" y="863.5">Client Messaging</text></g>
<g id="p3-import-export" class="n g"><rect x="904.3" y="876.7" width="54.4" height="12.4"/><text x="908.6" y="882.9">Import/Export Client Details</text></g>
<g id="p3-client-billing" class="n y"><rect x="870.7" y="894.7" width="55" height="12.5"/><text x="875" y="900.9">Client Billing</text></g>
<g id="p3-proposals" class="n y"><rect x="870.7" y="912.3" width="55" height="12.5"/><text x="875" y="918.5">Proposals</text></g>
<g id="p3-client-dashboard" class="n y"><rect x="870.7" y="931" width="55" height="12.5"/><text x="875" y="937.2">Client Dashboard</text></g>
<g id="p3-client-users" class="n y"><rect x="870.7" y="950" width="55" height="12.5"/><text x="875" y="956.2">Client Users</text></g>
<g id="p3-custom-metrics" class="n r"><rect x="965.3" y="779.7" width="54.7" height="12.5"/><text x="969.6" y="785.9">Custom Metrics</text></g>
<g id="p3-integrations" class="n r"><rect x="965.3" y="799" width="54.7" height="12.5"/><text x="969.6" y="805.2">Integrations</text></g>
<g id="p3-integration-dashboards" class="n y"><rect x="998.7" y="819.3" width="54.6" height="16"/><text x="1003" y="824.2">Integration Data<tspan x="1003" y="830.4">Dashboards</tspan></text></g>
<g id="p3-insights-client-name" class="n r"><rect x="1103.3" y="779.3" width="54.7" height="13"/><text x="1107.6" y="785.8">(Client Name)</text></g>
<g id="p3-ai-analyst" class="n y"><rect x="1145.3" y="796.7" width="55" height="12.5"/><text x="1149.6" y="802.9">AI Analyst</text></g>
<g id="p3-metric-analysis" class="n y"><rect x="1145.3" y="815.7" width="55" height="12.5"/><text x="1149.6" y="821.9">Metric Analysis</text></g>
<g id="p3-goal-tracker" class="n y"><rect x="1145.3" y="832.3" width="55" height="12.5"/><text x="1149.6" y="838.5">Goal Tracker</text></g>
<g id="p3-metric-alerts" class="n y"><rect x="1145.3" y="848.7" width="55" height="12.5"/><text x="1149.6" y="854.9">Metric Alerts</text></g>
<g id="p3-metric-forecasting" class="n y"><rect x="1145.3" y="867" width="55" height="12.5"/><text x="1149.6" y="873.2">Metric Forecasting</text></g>
<g id="p3-performance-dashboard" class="n y"><rect x="1145.3" y="887.3" width="55" height="12.5"/><text x="1149.6" y="893.5">Performance Dashboard</text></g>
<g id="p3-performance-benchmarks" class="n y"><rect x="1145.3" y="907.3" width="55" height="12.5"/><text x="1149.6" y="913.5">Performance Benchmarks</text></g>
<g id="p3-performance-auditor" class="n y"><rect x="1145.3" y="926.7" width="55" height="12.5"/><text x="1149.6" y="932.9">Performance Auditor</text></g>
<g id="p3-reports-client-name" class="n r"><rect x="1257.7" y="781.7" width="55" height="12.6"/><text x="1262" y="788">(Client Name)</text></g>
<g id="p3-reports-sub" class="n y"><rect x="1290.3" y="812.3" width="54.7" height="12.5"/><text x="1294.6" y="818.5">Reports</text></g>
<g id="p3-report-scheduling" class="n g"><rect x="1325.7" y="833.3" width="55" height="12.4"/><text x="1330" y="839.5">Report Scheduling</text></g>
<g id="p3-report-activity" class="n g"><rect x="1325.7" y="851" width="55" height="12.4"/><text x="1330" y="857.2">Report Activity</text></g>
<g id="p3-report-builder" class="n y"><rect x="1290.3" y="873.3" width="54.7" height="12.5"/><text x="1294.6" y="879.5">Report Builder</text></g>
<g id="p3-ai-report-builder" class="n g"><rect x="1325.7" y="894" width="55" height="12.4"/><text x="1330" y="900.2">AI Report Builder</text></g>
<g id="p3-dashboards" class="n y"><rect x="1290.3" y="915" width="54.7" height="12.4"/><text x="1294.6" y="921.2">Dashboards</text></g>
<g id="p3-dashboard-builder" class="n g"><rect x="1325.7" y="931.7" width="55" height="12.4"/><text x="1330" y="937.9">Dashboard Builder</text></g>
<g id="p3-account-management" class="n r"><rect x="1397.7" y="776.7" width="55" height="12.5"/><text x="1402" y="782.9">Account Management</text></g>
<g id="p3-account-branding" class="n y"><rect x="1434.3" y="794" width="55" height="12.5"/><text x="1438.6" y="800.2">Account Branding</text></g>
<g id="p3-account-details" class="n y"><rect x="1434.3" y="812.3" width="55" height="12.5"/><text x="1438.6" y="818.5">Account Details</text></g>
<g id="p3-linked-accounts-1" class="n y"><rect x="1434.3" y="830.3" width="55" height="12.5"/><text x="1438.6" y="836.5">Linked Accounts</text></g>
<g id="p3-users-permissions" class="n y"><rect x="1434.3" y="848.3" width="55" height="12.5"/><text x="1438.6" y="854.5">Users &amp; User Permissions</text></g>
<g id="p3-domain" class="n y"><rect x="1434.3" y="866.3" width="55" height="12.5"/><text x="1438.6" y="872.5">Domain</text></g>
<g id="p3-agency-markup" class="n y"><rect x="1434.3" y="883.7" width="55" height="12.5"/><text x="1438.6" y="889.9">Agency Markup</text></g>
<g id="p3-linked-accounts-2" class="n y"><rect x="1434.3" y="904.3" width="55" height="12.5"/><text x="1438.6" y="910.5">Linked Accounts</text></g>
<g id="p3-data-import" class="n y"><rect x="1434.3" y="925.3" width="55" height="12.5"/><text x="1438.6" y="931.5">Data Import</text></g>
<g id="p3-my-profile" class="n r"><rect x="1397.7" y="949" width="55" height="12.5"/><text x="1402" y="955.2">My Profile</text></g>
<g id="p3-user-profile" class="n y"><rect x="1434.3" y="967.3" width="55" height="12.5"/><text x="1438.6" y="973.5">User profile</text></g>
<g id="p3-change-password" class="n y"><rect x="1434.3" y="985.7" width="55" height="12.5"/><text x="1438.6" y="991.9">Change Password</text></g>
<g id="p3-login-methods" class="n y"><rect x="1434.3" y="1006.3" width="55" height="12.5"/><text x="1438.6" y="1012.5">Login Methods</text></g>
<g id="p3-mfa" class="n y"><rect x="1434.3" y="1025.3" width="55" height="12.5"/><text x="1438.6" y="1031.5">Multi-factor Authentication</text></g>
<g id="p3-notification-settings" class="n y"><rect x="1434.3" y="1044.7" width="55" height="12.5"/><text x="1438.6" y="1050.9">Notification Settings</text></g>
<g id="p3-billing-subscription" class="n r"><rect x="1397.7" y="1070.3" width="55" height="12.5"/><text x="1402" y="1076.5">Billing &amp; Subscription</text></g>
<g id="p3-subscription-details" class="n y"><rect x="1434.3" y="1089.7" width="55" height="12.5"/><text x="1438.6" y="1095.9">Subscription details</text></g>
<g id="p3-invoices" class="n y"><rect x="1434.3" y="1107" width="55" height="12.5"/><text x="1438.6" y="1113.2">Invoices</text></g>
<g id="p3-add-ons" class="n y"><rect x="1434.3" y="1125.3" width="55" height="12.5"/><text x="1438.6" y="1131.5">Add-ons</text></g>
<g id="p3-api-details" class="n r"><rect x="1397.7" y="1148" width="55" height="12.5"/><text x="1402" y="1154.2">API Details</text></g>
<g id="p3-account-users" class="n r"><rect x="1397.7" y="1175" width="55" height="12.5"/><text x="1402" y="1181.2">Account Users</text></g>
<g id="p3-pm-tasks" class="n r"><rect x="1556" y="776.3" width="55" height="12.7"/><text x="1560.3" y="782.6">Tasks</text></g>
</g>
</svg>
